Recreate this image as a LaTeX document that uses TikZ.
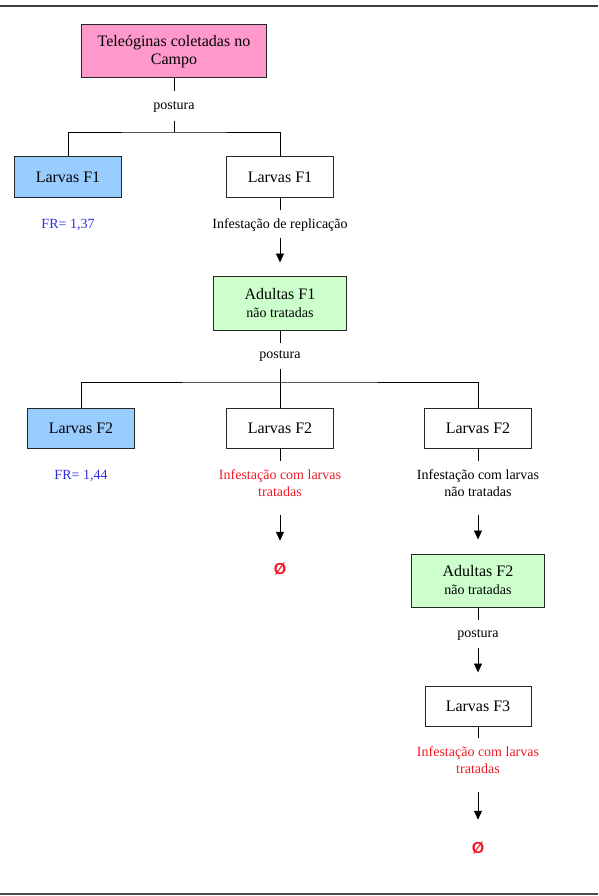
\documentclass[tikz,border=0pt]{standalone}
\usepackage{fontspec}
\setmainfont{Liberation Serif}
\newfontfamily\simbolo{Liberation Sans}
\usetikzlibrary{arrows.meta}
\definecolor{rosa}{RGB}{255,153,204}
\definecolor{azul}{RGB}{153,204,255}
\definecolor{verde}{RGB}{204,255,204}
\definecolor{azulfr}{RGB}{45,45,225}
\definecolor{vermelho}{RGB}{240,25,35}
\tikzset{
  caixa/.style={draw=black!85, line width=1pt, minimum width=107pt, minimum height=40pt,
    inner sep=2pt, align=center, font=\fontsize{16}{18}\selectfont},
  rotulo/.style={inner sep=2pt, align=center, font=\fontsize{14}{17}\selectfont},
  liga/.style={line width=0.9pt},
  seta/.style={liga, -{Triangle[length=9pt,width=8pt]}},
  vazio/.style={text=vermelho, inner sep=1pt, font=\simbolo\bfseries\fontsize{16}{16}\selectfont}
}

\begin{document}
\begin{tikzpicture}[x=1pt, y=-1pt]
      \useasboundingbox (0,0) rectangle (598,896);
      \draw[line width=1.5pt, black!75] (0,6) -- (598,6);
      \draw[line width=2pt, black!70] (0,894) -- (598,894);

      \node[caixa, fill=rosa, minimum width=185pt, minimum height=53pt] (campo) at (174,51.5) {Teleóginas coletadas no\\Campo};
      \node[rotulo] (post1) at (174,107) {postura};
      \coordinate (nivel1) at (174,132);
      \node[caixa, fill=azul] (larvaF1a) at (68,177) {Larvas F1};
      \node[caixa, fill=white] (larvaF1b) at (280,177) {Larvas F1};
      \node[rotulo, text=azulfr] (fr1) at (68,225) {FR= 1,37};
      \node[rotulo] (inf1) at (280,225) {Infestação de replicação};
      \node[caixa, fill=verde, minimum width=133pt, minimum height=54pt] (adultaF1) at (280,303) {Adultas F1\\{\fontsize{14}{17}\selectfont não tratadas}};
      \node[rotulo] (post2) at (280,356) {postura};
      \coordinate (nivel2) at (280,382);
      \node[caixa, fill=azul] (larvaF2a) at (81,428) {Larvas F2};
      \node[caixa, fill=white] (larvaF2b) at (280,428) {Larvas F2};
      \node[caixa, fill=white] (larvaF2c) at (478,428) {Larvas F2};
      \node[rotulo, text=azulfr] (fr2) at (81,476) {FR= 1,44};
      \node[rotulo, text=vermelho] (inf2) at (280,483) {Infestação com larvas\\tratadas};
      \node[rotulo] (inf3) at (478,483) {Infestação com larvas\\não tratadas};
      \node[vazio] (vazio1) at (280,569) {Ø};
      \node[caixa, fill=verde, minimum width=133pt, minimum height=53pt] (adultaF2) at (478,580.5) {Adultas F2\\{\fontsize{14}{17}\selectfont não tratadas}};
      \node[rotulo] (post3) at (478,635) {postura};
      \node[caixa, fill=white, minimum width=106pt] (larvaF3) at (478,706) {Larvas F3};
      \node[rotulo, text=vermelho] (inf4) at (478,760) {Infestação com larvas\\tratadas};
      \node[vazio] (vazio2) at (478,848) {Ø};

      \draw[liga, shorten >=8pt] (campo) -- (post1);
      \draw[liga, shorten <=6pt] (post1) -- (nivel1);
      \draw[liga] (larvaF1a) |- (nivel1) -| (larvaF1b);
      \draw[liga, shorten >=6pt] (larvaF1b) -- (inf1);
      \draw[seta, shorten <=4pt, shorten >=13pt] (inf1) -- (adultaF1);
      \draw[liga, shorten >=5pt] (adultaF1) -- (post2);
      \draw[liga, shorten <=5pt] (post2) -- (larvaF2b);
      \draw[liga] (larvaF2a) |- (nivel2) -| (larvaF2c);
      \draw[liga, shorten >=6pt] (larvaF2b) -- (inf2);
      \draw[seta, shorten <=16pt, shorten >=21pt] (inf2) -- (vazio1);
      \draw[liga, shorten >=6pt] (larvaF2c) -- (inf3);
      \draw[seta, shorten <=16pt, shorten >=14pt] (inf3) -- (adultaF2);
      \draw[liga, shorten >=7pt] (adultaF2) -- (post3);
      \draw[seta, shorten <=5pt, shorten >=13pt] (post3) -- (larvaF3);
      \draw[liga, shorten >=6pt] (larvaF3) -- (inf4);
      \draw[seta, shorten <=16pt, shorten >=21pt] (inf4) -- (vazio2);
    \end{tikzpicture}
\end{document}
